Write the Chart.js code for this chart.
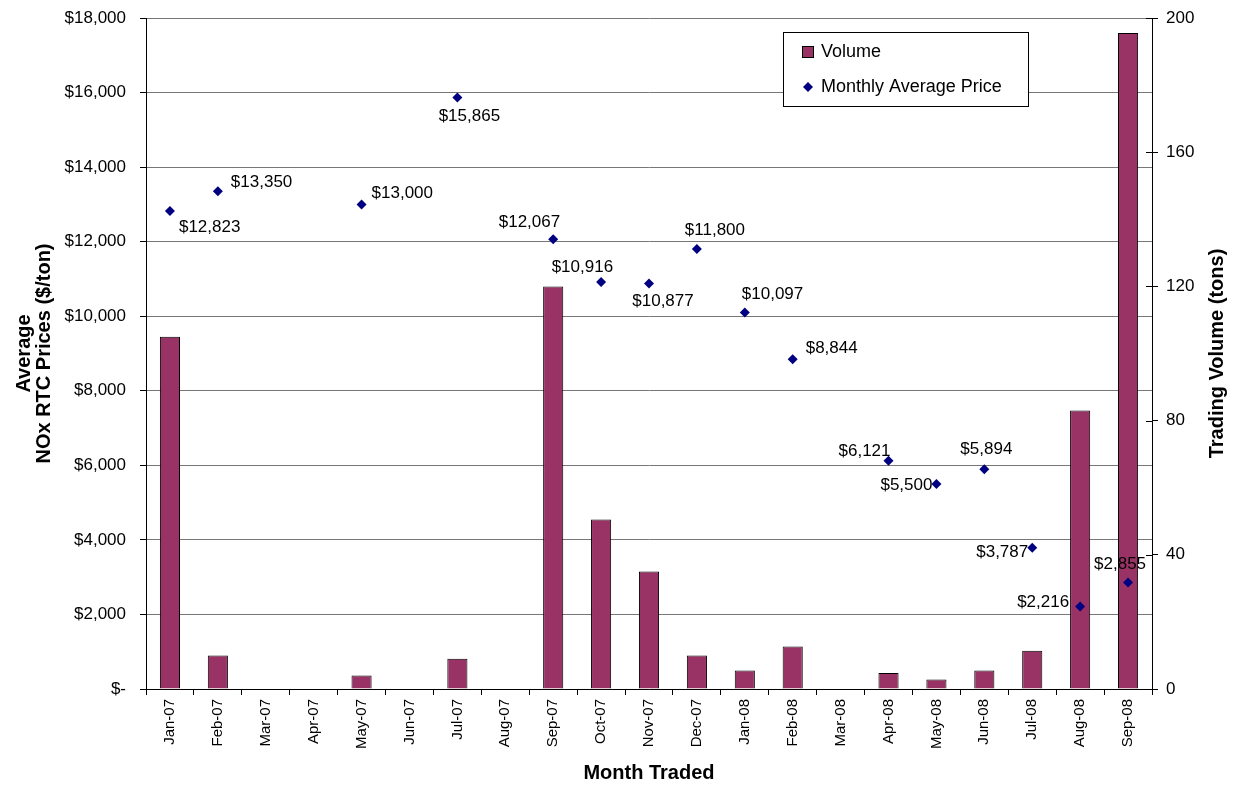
<!DOCTYPE html>
<html><head><meta charset="utf-8">
<script src="https://cdn.jsdelivr.net/npm/chart.js@4/dist/chart.umd.min.js"></script>
<style>html,body{margin:0;padding:0;background:#fff}#wrap{width:1241px;height:787px;position:relative}</style>
</head><body><div id="wrap"><canvas id="c" width="1241" height="787"></canvas></div>
<script>
const months = ['Jan-07','Feb-07','Mar-07','Apr-07','May-07','Jun-07','Jul-07','Aug-07','Sep-07','Oct-07','Nov-07','Dec-07','Jan-08','Feb-08','Mar-08','Apr-08','May-08','Jun-08','Jul-08','Aug-08','Sep-08'];
const volumeTons = [105,10,0,0,4,0,9,0,120,50.5,35,10,5.5,12.7,0,4.8,2.8,5.5,11.4,83,195.5];
const avgPrice = [12823,13350,null,null,13000,null,15865,null,12067,10916,10877,11800,10097,8844,null,6121,5500,5894,3787,2216,2855];
const seriesNames = ['Volume','Monthly Average Price'];
const axisTitles = {x:'Month Traded', left:['Average','NOx RTC Prices ($/ton)'], right:'Trading Volume (tons)'};

// label placement styling: [textAlign, dx, dy] relative to each point
const labelPlacement = [['left',9,16],['left',13,-9],null,null,['left',10,-11],null,['center',12,19],null,['right',7,-17],['right',12,-15],['center',14,18],['center',18,-19],['left',-3,-18],['left',13,-11],null,['right',2,-10],['right',-4,1],['center',2,-20],['right',-4,4],['right',-11,-4],['right',18,-18]];

const FONT = "'Liberation Sans', Arial, sans-serif";
Chart.defaults.font.family = FONT;
Chart.defaults.color = '#000';
const BAR = '#993366', PT = '#000080';
const money = v => '$' + Number(v).toLocaleString('en-US');

const labelsPlugin = {
  id:'pointLabels',
  afterDatasetsDraw(chart){
    const ctx = chart.ctx;
    const meta = chart.getDatasetMeta(0);
    ctx.save();
    ctx.font = '17px ' + FONT;
    ctx.fillStyle = '#000';
    ctx.textBaseline = 'middle';
    meta.data.forEach((el,i)=>{
      const v = avgPrice[i];
      const p = labelPlacement[i];
      if (v == null || !p) return;
      ctx.textAlign = p[0];
      ctx.fillText(money(v), el.x + p[1], el.y + p[2]);
    });
    ctx.restore();
  }
};

const decorPlugin = {
  id:'decor',
  afterDraw(chart){
    const ctx = chart.ctx, a = chart.chartArea;
    const y1 = chart.scales.y1;
    ctx.save();
    // inner part of right axis tick marks
    ctx.strokeStyle = '#000'; ctx.lineWidth = 1;
    y1.ticks.forEach(t=>{
      const py = Math.round(y1.getPixelForValue(t.value)) + 0.5;
      ctx.beginPath(); ctx.moveTo(a.right-6, py); ctx.lineTo(a.right, py); ctx.stroke();
    });
    // right axis title (reads bottom to top)
    ctx.font = 'bold 20px ' + FONT;
    ctx.fillStyle = '#000';
    ctx.textAlign = 'center'; ctx.textBaseline = 'middle';
    ctx.translate(1217, (a.top + a.bottom)/2);
    ctx.rotate(-Math.PI/2);
    ctx.fillText(axisTitles.right, 0, 0);
    ctx.restore();

    // legend
    ctx.save();
    const lx = 783, ly = 32, lw = 245, lh = 74;
    ctx.fillStyle = '#fff'; ctx.fillRect(lx, ly, lw, lh);
    ctx.strokeStyle = '#000'; ctx.lineWidth = 1;
    ctx.strokeRect(lx+0.5, ly+0.5, lw, lh);
    ctx.fillStyle = BAR; ctx.fillRect(802.5, 46.5, 11, 11);
    ctx.strokeRect(802.5, 46.5, 11, 11);
    ctx.fillStyle = PT;
    ctx.beginPath(); ctx.moveTo(808, 82); ctx.lineTo(813, 87); ctx.lineTo(808, 92); ctx.lineTo(803, 87); ctx.closePath(); ctx.fill();
    ctx.fillStyle = '#000';
    ctx.font = '18px ' + FONT;
    ctx.textAlign = 'left'; ctx.textBaseline = 'middle';
    ctx.fillText(seriesNames[0], 821, 52);
    ctx.fillText(seriesNames[1], 821, 87);
    ctx.restore();
  }
};

new Chart(document.getElementById('c'), {
  type:'bar',
  data:{
    labels: months,
    datasets:[
      {type:'line', label:seriesNames[1], data:avgPrice, yAxisID:'y', showLine:false,
       pointStyle:'rectRot', pointRadius:5, pointBackgroundColor:PT, pointBorderColor:PT, pointBorderWidth:0,
       borderColor:PT, backgroundColor:PT, order:0},
      {type:'bar', label:seriesNames[0], data:volumeTons, yAxisID:'y1', backgroundColor:BAR,
       borderColor:'#000', borderWidth:1, borderSkipped:'start', barPercentage:0.42, categoryPercentage:1, order:1}
    ]
  },
  options:{
    responsive:false, animation:false, devicePixelRatio:1,
    layout:{padding:{top:18,left:0,right:0,bottom:0}},
    plugins:{legend:{display:false}, tooltip:{enabled:false}},
    scales:{
      x:{
        offset:true,
        grid:{display:true, drawOnChartArea:false, offset:true, tickLength:6, color:'#000'},
        border:{color:'#000', width:1},
        ticks:{maxRotation:90, minRotation:90, autoSkip:false, padding:4, color:'#000', font:{size:15}},
        title:{display:true, text:axisTitles.x, color:'#000', font:{size:20, weight:'bold'}, padding:{top:0,bottom:2}},
        afterFit(s){ s.height = 98; s.paddingLeft = 0; s.paddingRight = 0; }
      },
      y:{
        position:'left', min:0, max:18000,
        ticks:{stepSize:2000, padding:14, color:'#000', font:{size:17}, callback:v => v === 0 ? '$-' : money(v)},
        grid:{color:'#777', tickColor:'#000', tickLength:6, lineWidth:1},
        border:{color:'#000', width:1},
        title:{display:true, text:axisTitles.left, color:'#000', font:{size:20, weight:'bold', lineHeight:1}, padding:{top:14, bottom:0}},
        afterFit(s){ s.width = 146; s.paddingTop = 0; s.paddingBottom = 0; }
      },
      y1:{
        position:'right', min:0, max:200,
        ticks:{stepSize:40, padding:8, color:'#000', font:{size:17}},
        grid:{drawOnChartArea:false, tickLength:6, color:'#000'},
        border:{color:'#000', width:1},
        afterFit(s){ s.width = 89; s.paddingTop = 0; s.paddingBottom = 0; }
      }
    }
  },
  plugins:[labelsPlugin, decorPlugin]
});
</script>
</body></html>
